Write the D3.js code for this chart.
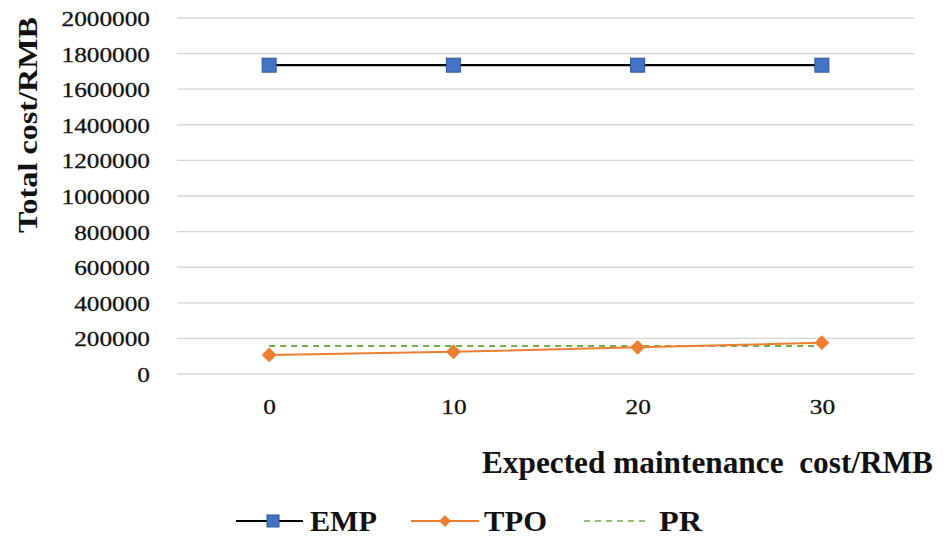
<!DOCTYPE html>
<html><head><meta charset="utf-8">
<script src="https://cdn.jsdelivr.net/npm/d3@7"></script>
<style>body{margin:0;background:#fff}svg{display:block}</style>
</head><body><svg id="c" width="949" height="540"></svg>
<script>
const categories = ["0", "10", "20", "30"];
const empValues = [1735000, 1735000, 1735000, 1735000];
const tpoValues = [107000, 125000, 150000, 176000];
const prValues = [157000, 157000, 157000, 157000];
const yTicks = [0, 200000, 400000, 600000, 800000, 1000000, 1200000, 1400000, 1600000, 1800000, 2000000];

const FONT = "'Liberation Serif', 'Times New Roman', 'DejaVu Serif', serif";
const svg = d3.select("#c");
const plotLeft = 177, plotRight = 914, plotTop = 18, plotBottom = 374;
const x = d3.scalePoint().domain(categories).range([plotLeft, plotRight]).padding(0.5);
const y = d3.scaleLinear().domain([0, 2000000]).range([plotBottom, plotTop]);

// gridlines
svg.append("g").selectAll("line").data(yTicks).join("line")
  .attr("x1", plotLeft).attr("x2", plotRight)
  .attr("y1", d => y(d)).attr("y2", d => y(d))
  .attr("stroke", "#d4d4d4").attr("stroke-width", 1.3);

// y axis labels
const ya = svg.append("g").attr("transform", `translate(150,0)`)
  .call(d3.axisLeft(y).tickValues(yTicks).tickSize(0).tickPadding(0).tickFormat(d3.format("d")));
ya.attr("font-family", null).attr("font-size", null);
ya.select(".domain").remove();
ya.selectAll("text").style("font-family", FONT).style("font-size", "22px").attr("fill", "#111")
  .attr("stroke", "#111").attr("stroke-width", 0.3)
  .attr("x", 0).attr("dy", "0.34em").attr("transform", "scale(1.15,1)");

// x axis labels
const xa = svg.append("g").attr("transform", `translate(0,${plotBottom})`)
  .call(d3.axisBottom(x).tickSize(0).tickPadding(0));
xa.attr("font-family", null).attr("font-size", null);
xa.select(".domain").remove();
xa.selectAll("text").style("font-family", FONT).style("font-size", "22px").attr("fill", "#111")
  .attr("stroke", "#111").attr("stroke-width", 0.3)
  .attr("y", 40).attr("dy", null).attr("transform", "scale(1.15,1)");

// titles
svg.append("text").attr("transform", "translate(37,125) rotate(-90)")
  .attr("text-anchor", "middle").style("font-family", FONT).style("font-size", "27px").style("font-weight", "bold")
  .attr("fill", "#111").attr("textLength", 216).attr("lengthAdjust", "spacingAndGlyphs").text("Total cost/RMB");
svg.append("text").attr("x", 482).attr("y", 473)
  .style("font-family", FONT).style("font-size", "31px").style("font-weight", "bold")
  .attr("fill", "#111").attr("textLength", 451).attr("lengthAdjust", "spacingAndGlyphs").text("Expected maintenance\u00a0 cost/RMB");

const line = d3.line().x((d, i) => x(categories[i])).y(d => y(d));

// PR dashed
svg.append("path").attr("d", line(prValues)).attr("fill", "none")
  .attr("stroke", "#70ad47").attr("stroke-width", 2).attr("stroke-dasharray", "6,5");
// TPO
svg.append("path").attr("d", line(tpoValues)).attr("fill", "none")
  .attr("stroke", "#ed7d31").attr("stroke-width", 2);
svg.append("g").selectAll("path").data(tpoValues).join("path")
  .attr("d", d3.symbol(d3.symbolSquare, 110)())
  .attr("transform", (d, i) => `translate(${x(categories[i])},${y(d)}) rotate(45)`)
  .attr("fill", "#ed7d31");
// EMP
svg.append("path").attr("d", line(empValues)).attr("fill", "none")
  .attr("stroke", "#000").attr("stroke-width", 2.2);
svg.append("g").selectAll("rect").data(empValues).join("rect")
  .attr("x", (d, i) => x(categories[i]) - 7).attr("y", d => y(d) - 7)
  .attr("width", 14).attr("height", 14).attr("fill", "#4472c4").attr("stroke", "#2f5597").attr("stroke-width", 1);

// legend
const ly = 521;
const lg = svg.append("g");
const legText = (xp, t, w) => lg.append("text").attr("x", xp).attr("y", 531)
  .style("font-family", FONT).style("font-size", "29px").style("font-weight", "bold").attr("fill", "#111")
  .attr("textLength", w).attr("lengthAdjust", "spacingAndGlyphs").text(t);
lg.append("line").attr("x1", 236).attr("x2", 303).attr("y1", ly).attr("y2", ly).attr("stroke", "#000").attr("stroke-width", 2.2);
lg.append("rect").attr("x", 267).attr("y", ly - 6).attr("width", 12).attr("height", 12).attr("fill", "#4472c4").attr("stroke", "#2f5597");
legText(310, "EMP", 67);
lg.append("line").attr("x1", 411).attr("x2", 479).attr("y1", ly).attr("y2", ly).attr("stroke", "#ed7d31").attr("stroke-width", 2);
lg.append("path").attr("d", d3.symbol(d3.symbolSquare, 70)()).attr("transform", `translate(445,${ly}) rotate(45)`).attr("fill", "#ed7d31");
legText(484, "TPO", 63);
lg.append("line").attr("x1", 584).attr("x2", 647).attr("y1", ly).attr("y2", ly).attr("stroke", "#70ad47").attr("stroke-width", 1.5).attr("stroke-dasharray", "6,5");
legText(659, "PR", 43);
</script></body></html>
